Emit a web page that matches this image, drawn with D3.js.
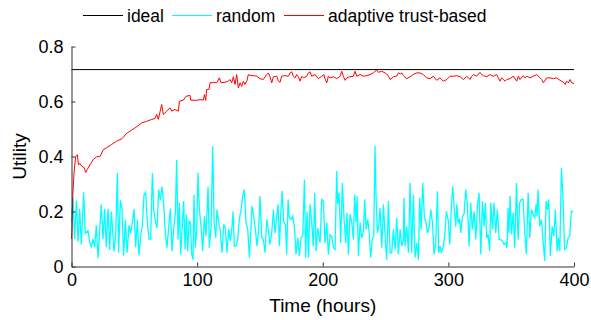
<!DOCTYPE html>
<html lang="en">
<head>
  <meta charset="UTF-8">
  <title>Utility over time</title>
  <script src="https://d3js.org/d3.v7.min.js"></script>
  <style>
    body { margin: 0; background: #fff; }
    svg text { font-family: Arial, "Liberation Sans", sans-serif; fill: #000; }
    .axis path, .axis line { stroke: #333; }
  </style>
</head>
<body>
  <div id="chart"></div>
  <script>
    const width = 591;
    const height = 320;

    // data
    const xTicks = [0, 100, 200, 300, 400];
    const yTicks = [0, 0.2, 0.4, 0.6, 0.8];
    const seriesNames = ["ideal", "random", "adaptive trust-based"];
    const seriesColors = ["#000000", "#00ffff", "#ff0000"];
    const idealUtility = 0.716;

    // [hour, utility]
    const randomSeries = [
      [0,0.16],[1.2,0.25],[2.5,0.10],[3.9,0.24],[5.2,0.09],[6.5,0.21],[7.8,0.08],[9.7,0.27],[11.0,0.12],[13.1,0.13],
      [14.5,0.09],[15.8,0.07],[17.1,0.10],[18.4,0.07],[19.8,0.15],[21.1,0.03],[22.4,0.13],[23.7,0.225],[25.1,0.10],[26.4,0.21],
      [27.7,0.07],[29.1,0.21],[30.4,0.06],[31.7,0.20],[33.8,0.055],[35.2,0.12],[36.5,0.34],[37.5,0.05],[38.9,0.24],[40.2,0.21],
      [41.5,0.04],[42.9,0.17],[44.2,0.05],[45.8,0.15],[47.1,0.12],[48.4,0.16],[49.8,0.21],[51.1,0.07],[52.4,0.17],[53.7,0.04],
      [55.1,0.11],[56.4,0.15],[57.7,0.26],[59.0,0.27],[60.4,0.16],[61.7,0.10],[63.0,0.10],[64.4,0.34],[65.4,0.21],[66.7,0.165],
      [68.1,0.14],[69.4,0.28],[70.7,0.24],[72.0,0.29],[73.4,0.225],[74.7,0.12],[76.0,0.068],[77.4,0.146],[78.7,0.21],[80.0,0.056],
      [81.3,0.135],[82.7,0.195],[83.7,0.387],[84.8,0.098],[85.9,0.232],[86.9,0.044],[88.2,0.146],[89.3,0.238],[90.4,0.062],[91.4,0.19],
      [92.5,0.056],[93.6,0.165],[94.6,0.16],[95.7,0.044],[96.7,0.025],[97.5,0.26],[98.6,0.068],[99.7,0.135],[100.7,0.341],[101.8,0.207],
      [103.1,0.146],[104.4,0.056],[105.8,0.183],[107.1,0.11],[108.7,0.29],[109.7,0.068],[111.1,0.146],[112.4,0.438],[113.5,0.16],[114.8,0.104],
      [115.8,0.207],[117.2,0.16],[118.5,0.128],[119.8,0.05],[121.2,0.153],[122.5,0.14],[123.8,0.05],[125.1,0.135],[126.5,0.092],[127.8,0.146],
      [128.6,0.2],[129.6,0.074],[131.0,0.074],[132.3,0.098],[133.6,0.171],[135.0,0.207],[136.3,0.256],[137.6,0.28],[138.9,0.16],[140.3,0.135],
      [141.6,0.032],[142.9,0.146],[143.7,0.22],[145.0,0.183],[146.4,0.135],[147.7,0.074],[149.0,0.135],[150.1,0.256],[151.4,0.104],[152.7,0.098],
      [154.1,0.05],[155.4,0.171],[156.7,0.135],[158.0,0.08],[159.4,0.122],[160.7,0.207],[162.0,0.122],[163.4,0.183],[164.4,0.226],[165.5,0.074],
      [166.5,0.183],[167.6,0.274],[168.9,0.16],[170.3,0.153],[171.3,0.044],[172.4,0.244],[173.4,0.177],[174.8,0.171],[176.1,0.183],[177.4,0.146],
      [178.7,0.044],[180.1,0.104],[181.4,0.038],[182.7,0.104],[184.1,0.11],[185.4,0.316],[186.4,0.032],[187.5,0.2],[188.6,0.032],[189.9,0.226],
      [191.2,0.16],[192.5,0.074],[193.6,0.268],[194.7,0.056],[196.0,0.14],[197.9,0.086],[199.2,0.244],[200.5,0.238],[201.8,0.086],[203.2,0.16],
      [204.5,0.044],[205.8,0.116],[207.1,0.11],[208.5,0.068],[209.8,0.062],[211.1,0.347],[211.9,0.226],[213.0,0.268],[214.3,0.086],[215.6,0.304],
      [217.0,0.171],[218.3,0.086],[219.3,0.195],[220.4,0.044],[221.7,0.19],[223.1,0.16],[224.4,0.098],[225.4,0.262],[226.5,0.16],[227.3,0.256],
      [228.4,0.038],[229.7,0.16],[231.0,0.104],[232.4,0.128],[233.4,0.244],[234.5,0.135],[235.8,0.171],[236.9,0.128],[238.2,0.032],[239.5,0.104],
      [240.6,0.11],[241.6,0.438],[242.4,0.256],[243.5,0.122],[244.6,0.146],[245.6,0.213],[247.0,0.068],[248.3,0.226],[249.6,0.11],[250.9,0.025],
      [252.3,0.238],[253.6,0.05],[254.9,0.05],[256.2,0.135],[257.6,0.062],[258.9,0.177],[260.2,0.044],[261.6,0.135],[262.9,0.074],[264.2,0.098],
      [264.7,0.25],[265.5,0.074],[266.9,0.146],[268.2,0.05],[269.5,0.304],[270.8,0.05],[272.2,0.262],[273.5,0.032],[274.8,0.086],[276.1,0.025],
      [277.2,0.25],[278.3,0.135],[279.6,0.304],[280.9,0.177],[282.2,0.16],[283.3,0.122],[284.6,0.14],[286.0,0.207],[287.3,0.16],[288.6,0.044],
      [289.9,0.086],[291.3,0.274],[292.3,0.05],[293.4,0.074],[294.5,0.05],[296.0,0.074],[297.1,0.11],[298.4,0.2],[299.8,0.171],[301.1,0.08],
      [302.4,0.22],[303.5,0.292],[304.5,0.22],[305.9,0.146],[306.7,0.226],[307.7,0.16],[308.8,0.171],[309.9,0.122],[311.2,0.183],[312.5,0.19],
      [313.8,0.28],[315.2,0.22],[316.5,0.074],[317.8,0.232],[319.1,0.135],[320.5,0.2],[321.8,0.098],[323.1,0.22],[324.4,0.268],[325.8,0.044],
      [327.1,0.238],[328.4,0.146],[329.5,0.232],[330.5,0.104],[331.6,0.117],[332.9,0.056],[333.7,0.232],[335.1,0.135],[336.4,0.232],[337.7,0.122],
      [339.0,0.207],[340.4,0.098],[341.7,0.098],[343.0,0.092],[344.4,0.08],[345.7,0.086],[346.7,0.068],[347.5,0.213],[348.3,0.122],[349.1,0.256],
      [350.2,0.117],[351.5,0.195],[352.8,0.068],[354.2,0.304],[355.5,0.098],[356.8,0.232],[358.1,0.244],[359.5,0.244],[360.8,0.122],[362.1,0.044],
      [363.5,0.268],[364.8,0.104],[366.1,0.207],[367.4,0.19],[368.8,0.177],[369.8,0.226],[370.6,0.183],[371.4,0.28],[372.7,0.146],[374.1,0.171],
      [375.4,0.092],[376.7,0.02],[377.8,0.238],[378.9,0.207],[379.9,0.244],[381.2,0.038],[382.6,0.146],[383.9,0.11],[385.2,0.207],[386.6,0.056],
      [387.6,0.104],[388.7,0.056],[390.0,0.359],[391.3,0.238],[392.6,0.062],[394.0,0.068],[395.3,0.104],[396.6,0.11],[397.9,0.2],[399.5,0.2]
    ];

    const trustSeries = [
      [0,0.10],[0.3,0.13],[1.0,0.256],[2.0,0.34],[3.3,0.40],[4.7,0.406],[5.5,0.37],[6.8,0.375],[8.1,0.365],[10.0,0.36],
      [11.3,0.342],[12.6,0.353],[14.7,0.37],[17.4,0.389],[20.0,0.399],[22.7,0.40],[25.3,0.425],[28.0,0.432],[32.0,0.444],[36.0,0.456],
      [40.0,0.464],[43.9,0.484],[47.9,0.496],[51.9,0.508],[55.9,0.522],[59.9,0.528],[63.8,0.535],[66.5,0.538],[67.8,0.553],[69.1,0.535],
      [71.8,0.589],[73.1,0.553],[75.8,0.565],[78.4,0.577],[79.8,0.565],[82.4,0.571],[85.1,0.565],[85.9,0.601],[89.0,0.605],[91.2,0.619],
      [94.4,0.622],[94.9,0.605],[99.7,0.604],[102.3,0.607],[105.0,0.605],[105.8,0.625],[106.8,0.604],[107.6,0.644],[109.5,0.644],[110.3,0.668],
      [112.9,0.67],[115.6,0.668],[117.7,0.686],[119.0,0.668],[122.2,0.67],[124.9,0.674],[126.2,0.68],[127.5,0.668],[128.9,0.69],[130.2,0.662],
      [131.5,0.698],[132.8,0.649],[134.2,0.668],[135.5,0.655],[136.8,0.674],[138.1,0.662],[139.5,0.674],[140.8,0.698],[142.1,0.695],[144.8,0.694],
      [147.4,0.692],[150.1,0.683],[152.7,0.68],[155.4,0.698],[156.7,0.704],[158.0,0.69],[159.4,0.668],[160.7,0.69],[163.4,0.692],[164.7,0.674],
      [166.0,0.67],[167.3,0.692],[170.0,0.694],[172.6,0.692],[174.0,0.704],[175.3,0.708],[176.6,0.692],[177.9,0.686],[179.3,0.698],[180.6,0.69],
      [181.9,0.674],[183.3,0.692],[184.6,0.686],[187.2,0.692],[188.6,0.704],[189.9,0.708],[191.2,0.692],[193.9,0.698],[196.5,0.683],[199.2,0.692],
      [201.0,0.698],[201.8,0.683],[203.2,0.668],[204.5,0.692],[205.8,0.686],[208.5,0.69],[211.1,0.683],[213.8,0.692],[215.1,0.71],[216.4,0.692],
      [217.8,0.677],[219.1,0.686],[221.7,0.69],[224.4,0.692],[225.7,0.71],[227.1,0.692],[229.7,0.698],[232.4,0.692],[235.0,0.694],[237.7,0.698],
      [240.3,0.704],[241.6,0.71],[243.0,0.714],[244.3,0.706],[246.9,0.71],[249.6,0.704],[250.9,0.70],[252.3,0.692],[253.6,0.68],[256.2,0.69],
      [258.9,0.692],[260.2,0.704],[261.6,0.70],[262.9,0.704],[264.2,0.694],[266.9,0.683],[269.5,0.69],[272.1,0.698],[274.8,0.704],[277.4,0.704],
      [280.1,0.698],[282.7,0.686],[285.4,0.683],[288.0,0.692],[290.7,0.677],[293.3,0.686],[296.0,0.674],[298.7,0.68],[301.3,0.692],[304.0,0.692],
      [306.6,0.694],[309.3,0.69],[311.9,0.68],[314.6,0.692],[317.2,0.68],[318.6,0.692],[319.9,0.698],[322.5,0.692],[325.2,0.706],[326.5,0.698],
      [327.9,0.694],[330.5,0.69],[333.2,0.698],[335.8,0.692],[338.5,0.698],[339.8,0.686],[341.1,0.674],[342.4,0.686],[345.1,0.674],[346.4,0.68],
      [349.1,0.683],[351.7,0.692],[354.4,0.674],[355.7,0.692],[357.0,0.68],[359.7,0.694],[361.0,0.686],[362.4,0.692],[365.0,0.686],[367.7,0.692],
      [370.3,0.698],[373.0,0.686],[374.3,0.68],[375.6,0.668],[378.3,0.686],[380.9,0.686],[383.6,0.683],[386.2,0.686],[388.9,0.677],[391.5,0.67],
      [392.9,0.662],[394.2,0.674],[395.5,0.668],[396.9,0.68],[398.2,0.668],[400,0.665]
    ];

    const svg = d3.select("#chart")
      .append("svg")
      .attr("width", width)
      .attr("height", height);

    const x = d3.scaleLinear()
      .domain([0, 400])
      .range([71.5, 574]);

    const y = d3.scaleLinear()
      .domain([0, 0.8])
      .range([266.5, 46.5]);

    const line = d3.line()
      .x(d => x(d[0]))
      .y(d => y(d[1]));

    // ideal
    svg.append("path")
      .datum([[0, idealUtility], [400, idealUtility]])
      .attr("d", line)
      .attr("fill", "none")
      .attr("stroke", seriesColors[0])
      .attr("stroke-width", 1);

    // random
    svg.append("path")
      .datum(randomSeries)
      .attr("d", line)
      .attr("fill", "none")
      .attr("stroke", seriesColors[1])
      .attr("stroke-width", 1.3)
      .attr("stroke-linejoin", "miter");

    // adaptive trust-based
    svg.append("path")
      .datum(trustSeries)
      .attr("d", line)
      .attr("fill", "none")
      .attr("stroke", seriesColors[2])
      .attr("stroke-width", 1);

    // axes, ticks point inward
    const xAxis = svg.append("g")
      .attr("class", "axis")
      .attr("transform", `translate(0,${y(0)})`)
      .call(d3.axisBottom(x)
        .tickValues(xTicks)
        .tickSizeInner(-4)
        .tickSizeOuter(0)
        .tickPadding(7)
        .tickFormat(d3.format("d")));

    xAxis.selectAll("text")
      .style("font-size", "18px");

    const yAxis = svg.append("g")
      .attr("class", "axis")
      .attr("transform", `translate(${x(0)},0)`)
      .call(d3.axisLeft(y)
        .tickValues(yTicks)
        .tickSizeInner(-4)
        .tickSizeOuter(0)
        .tickPadding(8)
        .tickFormat(d => d === 0 ? "0" : d3.format(".1f")(d)));

    yAxis.selectAll("text")
      .style("font-size", "18px");

    // axis titles
    svg.append("text")
      .attr("x", (x(0) + x(400)) / 2)
      .attr("y", 312)
      .attr("text-anchor", "middle")
      .style("font-size", "19px")
      .text("Time (hours)");

    svg.append("text")
      .attr("transform", `translate(26,${(y(0) + y(0.8)) / 2}) rotate(-90)`)
      .attr("text-anchor", "middle")
      .style("font-size", "19px")
      .text("Utility");

    // legend
    const legendX = [83, 172, 284];
    const legend = svg.append("g");

    seriesNames.forEach((name, i) => {
      legend.append("line")
        .attr("x1", legendX[i])
        .attr("x2", legendX[i] + 40)
        .attr("y1", 15.5)
        .attr("y2", 15.5)
        .attr("stroke", seriesColors[i])
        .attr("stroke-width", 1);

      legend.append("text")
        .attr("x", legendX[i] + 44)
        .attr("y", 22)
        .style("font-size", "17.5px")
        .text(name);
    });
  </script>
</body>
</html>
